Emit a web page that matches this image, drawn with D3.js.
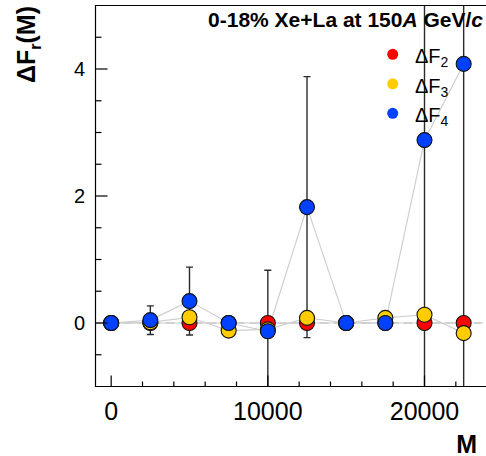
<!DOCTYPE html>
<html>
<head>
<meta charset="utf-8">
<script src="https://cdn.jsdelivr.net/npm/d3@7"></script>
<style>
  body { margin: 0; background: #fff; }
  svg { display: block; font-family: "Liberation Sans", Arial, Helvetica, sans-serif; }
</style>
</head>
<body>
<svg id="chart" width="486" height="456"></svg>
<script>
// multiplicity bins
var mValues = [0, 2500, 5000, 7500, 10000, 12500, 15000, 17500, 20000, 22500];
// Delta F_r(M) per order r
var dF2 = [0, 0, 0, 0, 0, 0, 0, 0, 0, 0];
var dF3 = [0, 0.01, 0.09, -0.12, -0.1, 0.08, 0, 0.08, 0.13, -0.16];
var dF4 = [0, 0.045, 0.345, 0, -0.13, 1.825, 0, 0, 2.88, 4.08];
var dF4err = [0, 0.225, 0.535, 0, 0.96, 2.055, 0, 0, 4.2, 5.5];
var seriesNames = ["F2", "F3", "F4"];
var seriesColors = ["#ff0000", "#ffcc00", "#0040ff"];
var xTickValues = [0, 10000, 20000];
var yTickValues = [0, 2, 4];

var svg = d3.select("#chart");
var pLeft = 95.5, pRight = 495, pTop = 5.5, pBottom = 386.5;

var x = d3.scaleLinear().domain([-1000, 24500]).range([pLeft, pRight]);
var y = d3.scaleLinear().domain([-1, 5]).range([pBottom, pTop]);

svg.append("defs").append("clipPath")
  .attr("id", "clip")
  .append("rect")
  .attr("x", pLeft).attr("y", pTop)
  .attr("width", pRight - pLeft).attr("height", pBottom - pTop);

var plot = svg.append("g").attr("clip-path", "url(#clip)");

// dashed zero line
plot.append("line")
  .attr("x1", pLeft).attr("x2", pRight)
  .attr("y1", y(0)).attr("y2", y(0))
  .attr("stroke", "#c4c4c4")
  .attr("stroke-width", 1.5)
  .attr("stroke-dasharray", "9,5");

// frame
svg.append("path")
  .attr("d", "M" + pRight + "," + pTop + "H" + pLeft + "V" + pBottom + "H" + pRight)
  .attr("fill", "none")
  .attr("stroke", "#000")
  .attr("stroke-width", 1.2);

// x ticks (inside)
var xMinor = d3.range(0, 24001, 2000);
svg.append("g").selectAll("line")
  .data(xMinor)
  .enter().append("line")
  .attr("x1", function(d) { return x(d); })
  .attr("x2", function(d) { return x(d); })
  .attr("y1", pBottom)
  .attr("y2", function(d) { return d % 10000 === 0 ? pBottom - 11 : pBottom - 5; })
  .attr("stroke", "#000")
  .attr("stroke-width", 1.2);

svg.append("g").selectAll("text")
  .data(xTickValues)
  .enter().append("text")
  .attr("x", function(d) { return x(d); })
  .attr("y", 420)
  .attr("text-anchor", "middle")
  .attr("font-size", 25)
  .text(function(d) { return d; });

// y ticks (inside)
var yMinor = d3.range(-0.5, 5, 0.5);
svg.append("g").selectAll("line")
  .data(yMinor)
  .enter().append("line")
  .attr("x1", pLeft)
  .attr("x2", function(d) { return d % 2 === 0 ? pLeft + 12 : pLeft + 6; })
  .attr("y1", function(d) { return y(d); })
  .attr("y2", function(d) { return y(d); })
  .attr("stroke", "#000")
  .attr("stroke-width", 1.2);

svg.append("g").selectAll("text")
  .data(yTickValues)
  .enter().append("text")
  .attr("x", 85)
  .attr("y", function(d) { return y(d); })
  .attr("dy", "0.36em")
  .attr("text-anchor", "end")
  .attr("font-size", 20)
  .text(function(d) { return d; });

// axis titles
svg.append("text")
  .attr("x", 477).attr("y", 453)
  .attr("text-anchor", "end")
  .attr("font-size", 25)
  .attr("font-weight", "bold")
  .text("M");

var yTitle = svg.append("text")
  .attr("transform", "translate(35,6)rotate(-90)")
  .attr("text-anchor", "end")
  .attr("font-size", 25)
  .attr("font-weight", "bold");
yTitle.append("tspan").text("ΔF");
yTitle.append("tspan").attr("font-size", 16).attr("dy", 6).text("r");
yTitle.append("tspan").attr("dy", -6).text("(M)");

// plot title
var title = svg.append("text")
  .attr("x", 483).attr("y", 27)
  .attr("text-anchor", "end")
  .attr("font-size", 21)
  .attr("font-weight", "bold");
title.append("tspan").text("0-18% Xe+La at 150");
title.append("tspan").attr("font-style", "italic").text("A");
title.append("tspan").text(" GeV/");
title.append("tspan").attr("font-style", "italic").text("c");

// legend
var legend = svg.append("g").selectAll("g")
  .data(seriesNames)
  .enter().append("g")
  .attr("transform", function(d, i) { return "translate(0," + (i * 29.5) + ")"; });

legend.append("circle")
  .attr("cx", 392.7).attr("cy", 54.3).attr("r", 5.5)
  .attr("fill", function(d, i) { return seriesColors[i]; });

var legText = legend.append("text")
  .attr("x", 415).attr("y", 63.3)
  .attr("font-size", 20);
legText.append("tspan").text("ΔF");
legText.append("tspan").attr("font-size", 14).attr("dy", 4)
  .text(function(d) { return d.slice(1); });

// connecting lines
var seriesData = [dF2, dF3, dF4].map(function(vals) {
  return mValues.map(function(m, i) { return {m: m, v: vals[i]}; });
});
var line = d3.line()
  .x(function(d) { return x(d.m); })
  .y(function(d) { return y(d.v); });

plot.selectAll(".conn")
  .data(seriesData)
  .enter().append("path")
  .attr("class", "conn")
  .attr("d", line)
  .attr("fill", "none")
  .attr("stroke", "#cfcfcf")
  .attr("stroke-width", 1.2);

// error bars of dF4
var errData = mValues.map(function(m, i) { return {m: m, v: dF4[i], e: dF4err[i]}; })
  .filter(function(d) { return d.e > 0; });
var eb = plot.append("g").attr("stroke", "#2a2a2a").attr("stroke-width", 1.4);
eb.selectAll(".bar").data(errData).enter().append("line")
  .attr("x1", function(d) { return x(d.m); })
  .attr("x2", function(d) { return x(d.m); })
  .attr("y1", function(d) { return y(d.v + d.e); })
  .attr("y2", function(d) { return y(d.v - d.e); });
eb.selectAll(".capTop").data(errData).enter().append("line")
  .attr("x1", function(d) { return x(d.m) - 3.5; })
  .attr("x2", function(d) { return x(d.m) + 3.5; })
  .attr("y1", function(d) { return y(d.v + d.e); })
  .attr("y2", function(d) { return y(d.v + d.e); });
eb.selectAll(".capBot").data(errData).enter().append("line")
  .attr("x1", function(d) { return x(d.m) - 3.5; })
  .attr("x2", function(d) { return x(d.m) + 3.5; })
  .attr("y1", function(d) { return y(d.v - d.e); })
  .attr("y2", function(d) { return y(d.v - d.e); });

// markers
seriesData.forEach(function(pts, s) {
  plot.append("g").selectAll("circle")
    .data(pts)
    .enter().append("circle")
    .attr("cx", function(d) { return x(d.m); })
    .attr("cy", function(d) { return y(d.v); })
    .attr("r", 7.5)
    .attr("fill", seriesColors[s])
    .attr("stroke", "#111")
    .attr("stroke-width", 1.1);
});
</script>
</body>
</html>
